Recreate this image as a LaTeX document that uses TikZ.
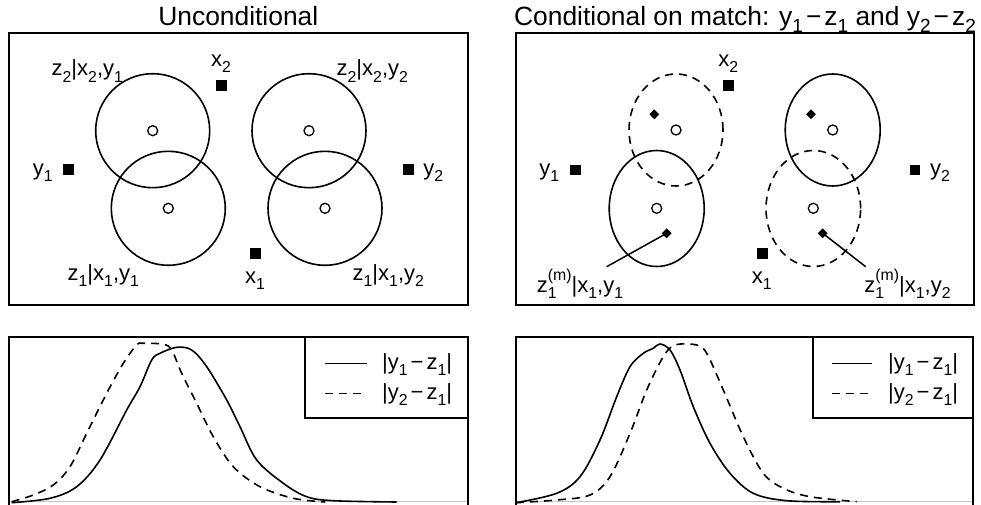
\documentclass[tikz,border=0pt]{standalone}
\usepackage{graphicx}
\usepackage{fontspec}
\setmainfont{Liberation Sans}
\usetikzlibrary{shapes.geometric}
\newcommand\dn[1]{\raisebox{-0.28em}{\scalebox{0.72}{#1}}}
\newcommand\up[1]{\raisebox{0.55em}{\scalebox{0.72}{#1}}}
\newcommand\ud[2]{\rlap{\dn{#1}}\up{#2}}
\newcommand\mn{\kern3pt−\kern3pt}
\tikzset{
 frame/.style={line width=1.8pt},
 sq/.style={fill=black, minimum size=10.5pt, inner sep=0pt},
 oc/.style={circle, draw, line width=1.3pt, minimum size=10pt, inner sep=0pt},
 dm/.style={diamond, fill=black, minimum size=10pt, inner sep=0pt},
 lab/.style={font=\fontsize{22}{24}\selectfont, inner sep=0pt, anchor=base},
 ttl/.style={font=\fontsize{26.4}{30}\selectfont, inner sep=0pt, anchor=base},
 ring/.style={line width=1.6pt},
 dsh/.style={dash pattern=on 8pt off 6pt},
 dens/.style={line width=1.6pt},
 zero/.style={line width=1.4pt, gray!45}
}
\begin{document}
\begin{tikzpicture}[x=1pt,y=-1pt]
\useasboundingbox (0,0) rectangle (981,505);
% ---------- titles
\node[ttl] (t1) at (238.3,26) {Unconditional};
\node[ttl] (t2) at (745,25.5) {Conditional on match: y\dn{1}\mn z\dn{1} and y\dn{2}\mn z\dn{2}};
% ---------- top-left panel
\draw[frame] (9,33.3) rectangle (467.7,305);
\draw[ring] (152.7,130.7) circle [radius=57pt];
\draw[ring] (168.3,208.3) circle [radius=57pt];
\draw[ring] (309,130.7) circle [radius=57pt];
\draw[ring] (325,208.3) circle [radius=57pt];
\node[oc] (ca) at (152.7,130.7) {};
\node[oc] (cb) at (168.3,208.3) {};
\node[oc] (cc) at (309,130.7) {};
\node[oc] (cd) at (325,208.3) {};
\node[sq] (sx2) at (221.7,85.7) {};
\node[sq] (sy1) at (68.3,169.3) {};
\node[sq] (sy2) at (408.3,169.3) {};
\node[sq] (sx1) at (255.7,253.3) {};
\node[lab] (lx2) at (221,66.2) {x\dn{2}};
\node[lab] (ly1) at (42.7,175.5) {y\dn{1}};
\node[lab] (ly2) at (433.3,175.5) {y\dn{2}};
\node[lab] (lx1) at (255,283) {x\dn{1}};
\node[lab] (la) at (87.3,76) {z\dn{2}|x\dn{2},y\dn{1}};
\node[lab] (lc) at (372.3,76) {z\dn{2}|x\dn{2},y\dn{2}};
\node[lab] (lb) at (103.3,280) {z\dn{1}|x\dn{1},y\dn{1}};
\node[lab] (ld) at (388.3,280) {z\dn{1}|x\dn{1},y\dn{2}};
% ---------- top-right panel
\draw[frame] (516,33.3) rectangle (974,305);
\draw[ring,dsh] (676,130) ellipse [x radius=47pt, y radius=56pt];
\draw[ring] (656.7,208.5) ellipse [x radius=47.5pt, y radius=58pt];
\draw[ring] (832.7,130) ellipse [x radius=47.5pt, y radius=56pt];
\draw[ring,dsh] (813.3,208.5) ellipse [x radius=47.3pt, y radius=58pt];
\node[oc] (ce) at (676,130) {};
\node[oc] (cf) at (656.7,208.3) {};
\node[oc] (cg) at (832.7,130) {};
\node[oc] (ch) at (813.3,208.3) {};
\node[dm] (de) at (654.3,114.3) {};
\node[dm] (df) at (666.7,233.3) {};
\node[dm] (dg) at (811,114.3) {};
\node[dm] (dh) at (822.7,233.3) {};
\node[sq] (rx2) at (728.3,85.7) {};
\node[sq] (ry1) at (575.7,170) {};
\node[sq] (ry2) at (915,170) {};
\node[sq] (rx1) at (762.3,253.3) {};
\node[lab] (mx2) at (728.3,66.2) {x\dn{2}};
\node[lab] (my1) at (549.3,175.5) {y\dn{1}};
\node[lab] (my2) at (940,175.5) {y\dn{2}};
\node[lab] (mx1) at (761.7,283) {x\dn{1}};
\node[lab] (mf) at (580,292.7) {z\ud{1}{(m)}|x\dn{1},y\dn{1}};
\node[lab] (mh) at (907.5,292.7) {z\ud{1}{(m)}|x\dn{1},y\dn{2}};
\coordinate (pf) at (606.7,266.7);
\coordinate (ph) at (865.7,266.7);
\draw[line width=1.5pt] (df.center) -- (pf);
\draw[line width=1.5pt] (dh.center) -- (ph);
% ---------- bottom-left panel
\draw[zero] (9,501.7) -- (468,501.7);
\draw[frame] (9,506) -- (9,337.3) -- (468,337.3) -- (468,506);
\draw[dens] plot[smooth, tension=0.55] coordinates {(11.7,502.7) (50,498.3) (76.7,486.7) (100,460) (126.7,410) (140,386.7) (151.7,360) (160,353.3) (176.7,347.3) (191.7,350) (206.7,366.7) (226.7,400) (240,426.7) (256.7,460) (283.3,483.3) (306.7,496.7) (333.3,500.7) (396.7,502)};
\draw[dens,dsh] plot[smooth, tension=0.55] coordinates {(11.7,501.7) (33.3,495) (53.3,485) (70,466.7) (86.7,433.3) (106.7,393.3) (123.3,363.3) (136.7,345) (143.3,343.3) (163.3,344.3) (171.7,350) (181.7,373.3) (196.7,403.3) (213.3,436.7) (233.3,466.7) (260,486.7) (293.3,498.3) (325,502)};
\draw[frame] (305,337.3) rectangle (468,418);
\coordinate (ls1) at (325,363.3);
\coordinate (le1) at (367,363.3);
\coordinate (ls2) at (325,393.3);
\coordinate (le2) at (367,393.3);
\draw[dens] (ls1) -- (le1);
\draw[dens,dsh] (ls2) -- (le2);
\node[lab, anchor=base west] (g1) at (382,369) {|y\dn{1}\mn z\dn{1}|};
\node[lab, anchor=base west] (g2) at (382,399) {|y\dn{2}\mn z\dn{1}|};
% ---------- bottom-right panel
\draw[zero] (516,501.7) -- (973.3,501.7);
\draw[frame] (516,506) -- (516,337.3) -- (973.3,337.3) -- (973.3,506);
\draw[dens] plot[smooth, tension=0.55] coordinates {(516,502.7) (556.7,493.3) (580,476.7) (600,440) (616.7,396.7) (630,366.7) (643.3,353.3) (653.3,348.3) (660,344) (670,350) (680,370) (693.3,406.7) (710,443.3) (730,473.3) (753.3,493.3) (786.7,500.7) (840,501.7)};
\draw[dens,dsh] plot[smooth, tension=0.55] coordinates {(516,502.7) (556.7,500) (590,495) (610,476.7) (630,433.3) (646.7,390) (663.3,356.7) (675,345) (696.7,345) (706.7,353.3) (723.3,390) (743.3,436.7) (763.3,473.3) (783.3,488.3) (810,496.7) (856.7,501.7)};
\draw[frame] (812.7,337.3) rectangle (973.3,418);
\coordinate (rs1) at (831.7,363.3);
\coordinate (re1) at (871.7,363.3);
\coordinate (rs2) at (831.7,393.3);
\coordinate (re2) at (871.7,393.3);
\draw[dens] (rs1) -- (re1);
\draw[dens,dsh] (rs2) -- (re2);
\node[lab, anchor=base west] (h1) at (888,369) {|y\dn{1}\mn z\dn{1}|};
\node[lab, anchor=base west] (h2) at (888,399) {|y\dn{2}\mn z\dn{1}|};
\end{tikzpicture}
\end{document}
